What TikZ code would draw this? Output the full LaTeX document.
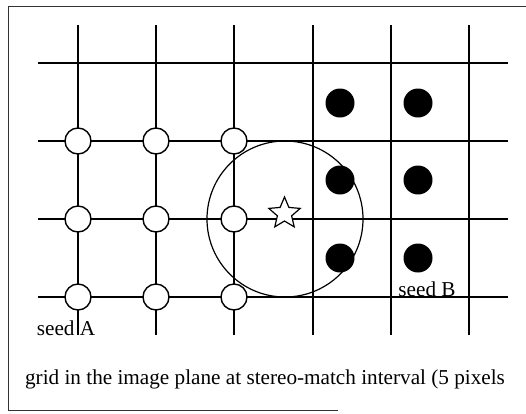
\documentclass[tikz,border=0pt]{standalone}
\usepackage{fontspec}
\setmainfont{Liberation Serif}
\usetikzlibrary{shapes.geometric}

\tikzset{
  gridline/.style={line width=1.4pt},
  opendot/.style={circle,draw,fill=white,line width=1.4pt,minimum size=26pt,inner sep=0pt},
  seeddot/.style={circle,fill=black,minimum size=29pt,inner sep=0pt},
  candstar/.style={star,star points=5,star point ratio=2.2,draw,fill=white,
    line width=1.2pt,minimum size=33pt,inner sep=0pt},
  labeltext/.style={font=\fontsize{21.2}{24}\selectfont,inner sep=0pt,anchor=base}
}

\begin{document}
\begin{tikzpicture}[x=1pt,y=-1pt]
  \useasboundingbox (0,0) rectangle (526,413);
  % frame
  \draw[line width=0.9pt,black!80] (526,6)--(8,6)--(8,410)--(338,410);
  % grid
  \foreach \x in {78,156,234,313,391,469}
    \draw[gridline] (\x,25)--(\x,335);
  \foreach \y in {63,141,219,297}
    \draw[gridline] (38,\y)--(508,\y);
  % search window
  \draw[line width=1.2pt] (285,219) circle[radius=78pt];
  % matched points (seed A side)
  \foreach \i/\x in {1/78,2/156,3/234}
    \foreach \j/\y in {1/141,2/219,3/297}
      \node[opendot] (a\i\j) at (\x,\y) {};
  % points (seed B side)
  \foreach \i/\x in {1/340,2/418}
    \foreach \j/\y in {1/103,2/180,3/258}
      \node[seeddot] (b\i\j) at (\x,\y) {};
  % candidate
  \node[candstar] (cand) at (284.5,213.5) {};
  % labels
  \node[labeltext] (seedA) at (66,335) {seed A};
  \node[labeltext] (seedB) at (427,296) {seed B};
  \node[labeltext] (caption) at (265,384) {grid in the image plane at stereo-match interval (5 pixels};
\end{tikzpicture}
\end{document}
